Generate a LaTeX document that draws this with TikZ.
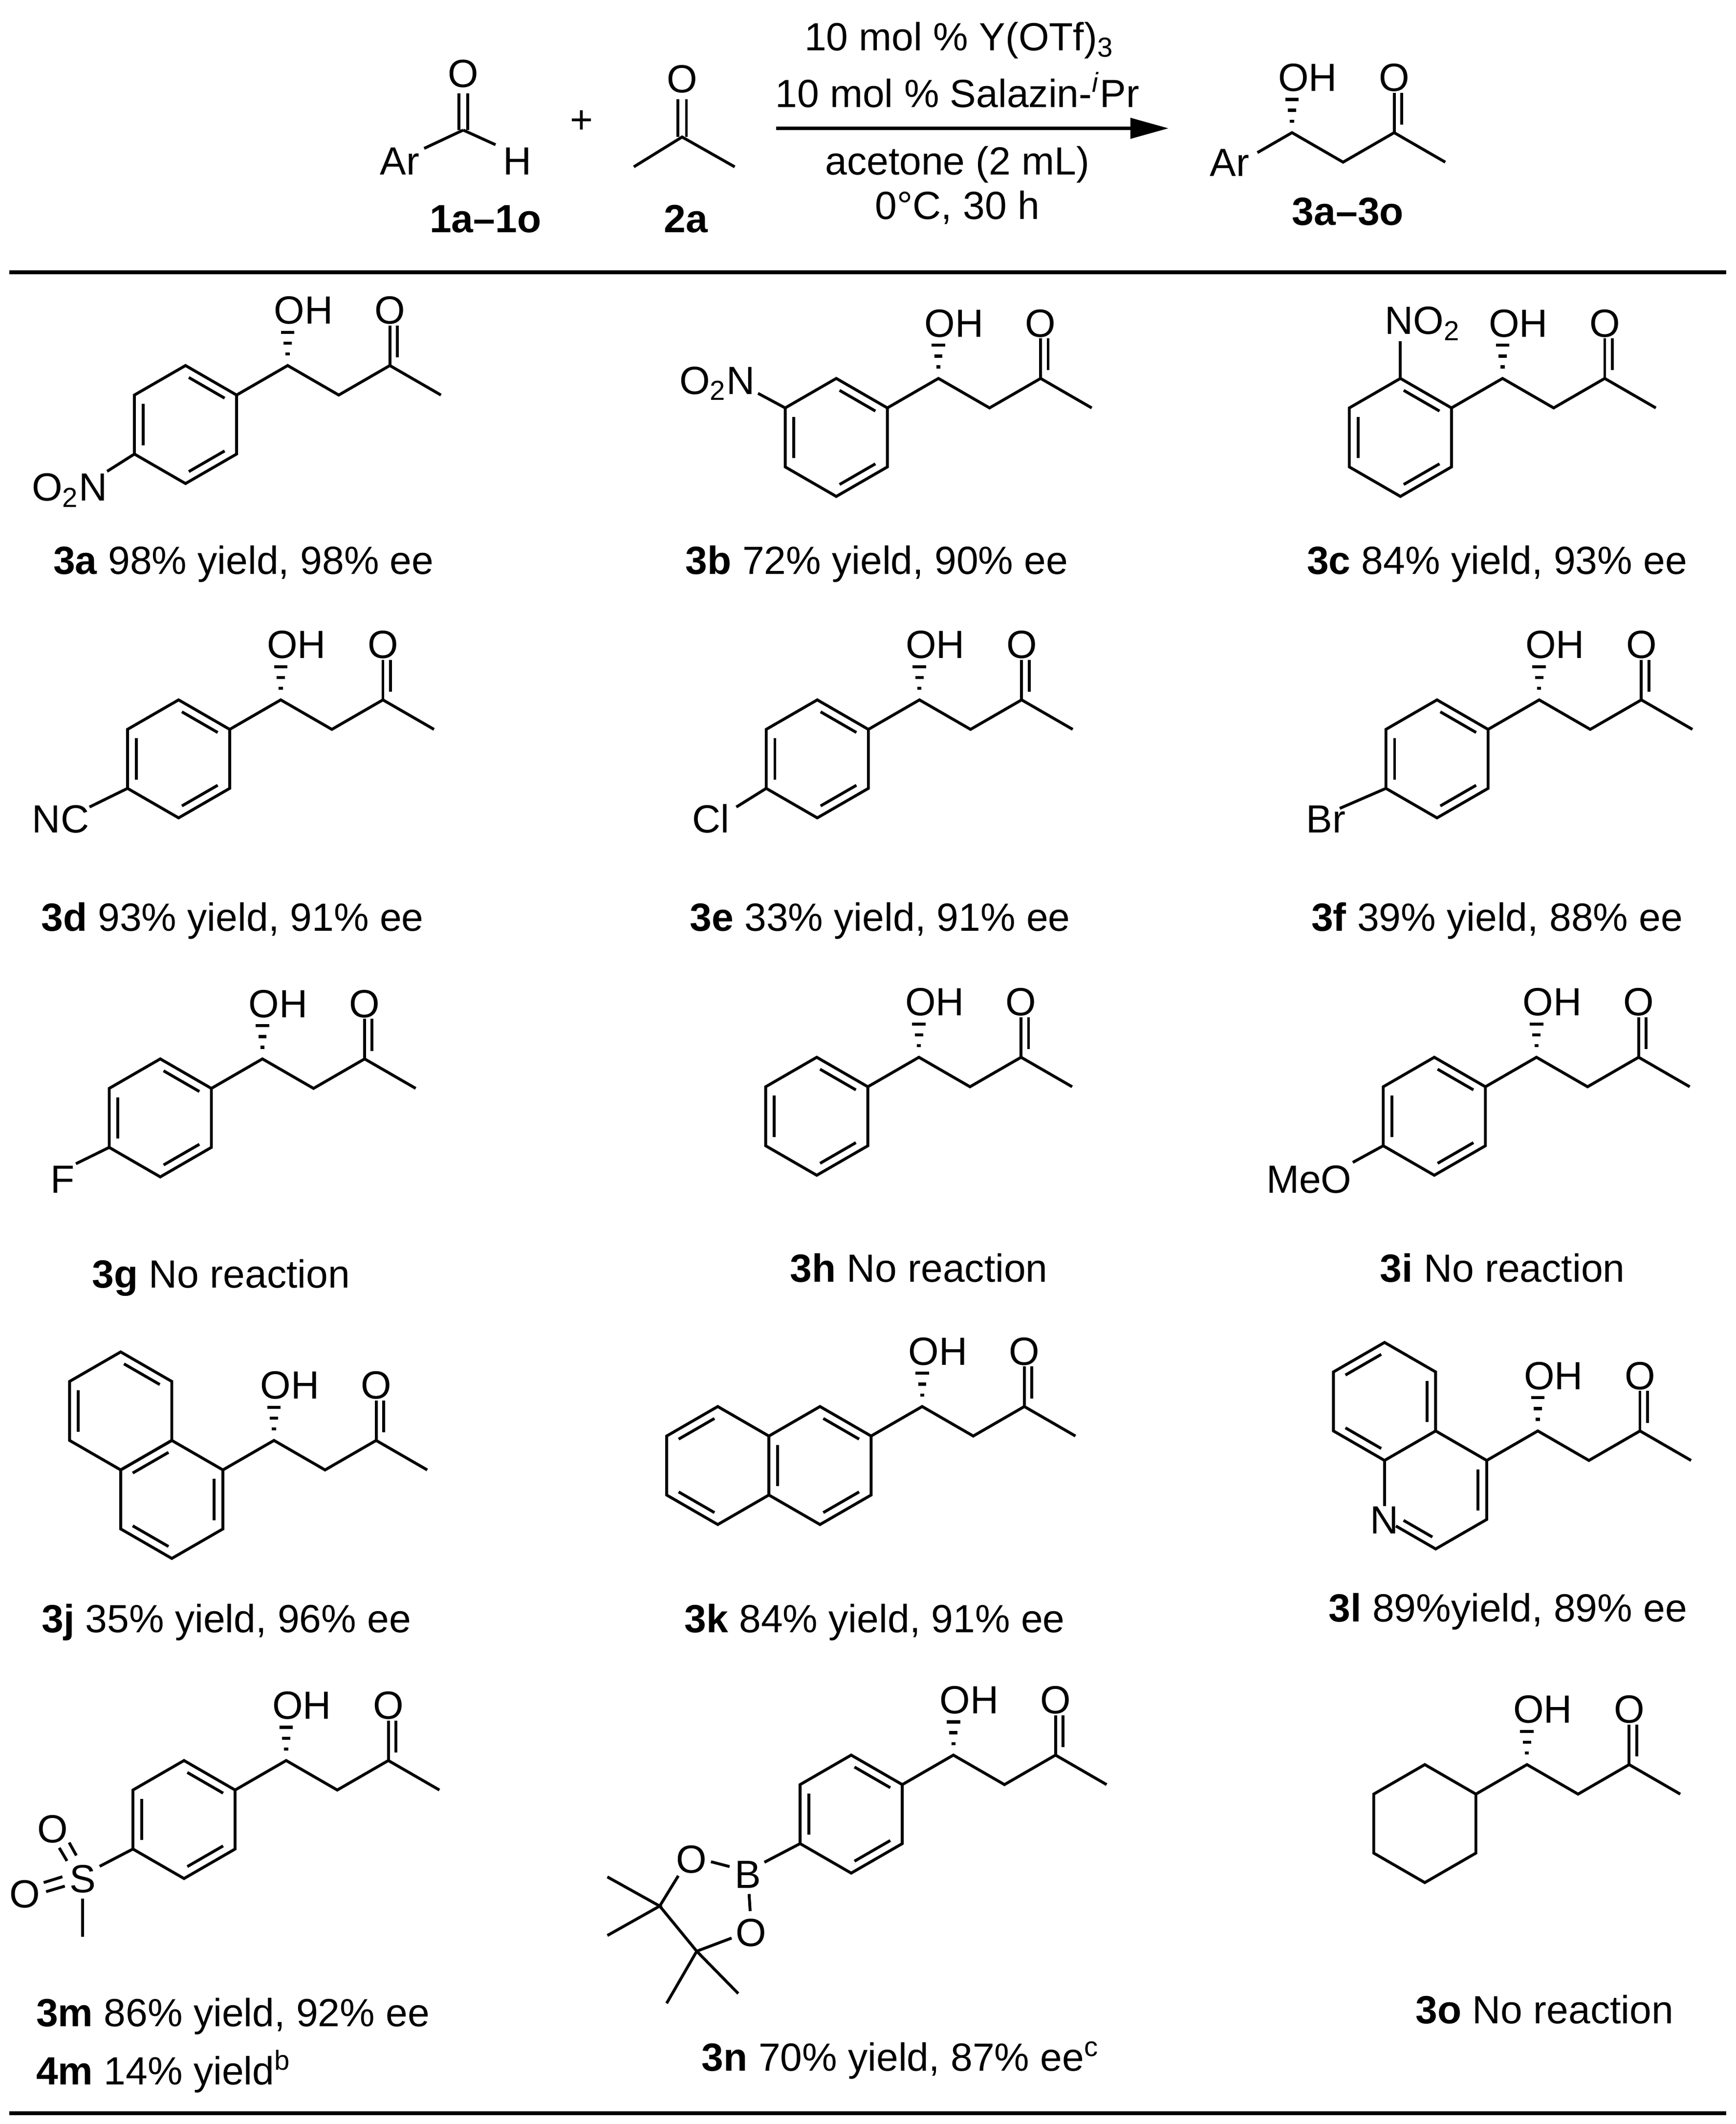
\documentclass[tikz,border=0pt]{standalone}
\usepackage{fontspec}
\setmainfont{Liberation Sans}
\usetikzlibrary{calc,arrows.meta}
\tikzset{
  bond/.style={line width=1.2pt},
  hashmark/.style={line width=1.3pt},
  lbl/.style={font=\fontsize{16.5}{20}\selectfont, inner sep=0pt},
  rulebar/.style={line width=1.7pt},
  rxnarrow/.style={line width=1.3pt,-{Triangle[length=16pt,width=8.5pt]}}
}
\newcommand\hexring[2]{\coordinate (#1-c) at (#2);%
  \foreach \ang in {30,90,150,210,270,330}{\coordinate (#1-\ang) at ($(#1-c)+(-\ang:43.5)$);}}
\newcommand\drawring[1]{\draw[bond] (#1-30)--(#1-90)--(#1-150)--(#1-210)--(#1-270)--(#1-330)--cycle;}
\newcommand\innerdb[3]{\draw[bond,shorten <=1.6pt,shorten >=1.6pt] ($(#1-c)!0.83!(#1-#2)$) -- ($(#1-c)!0.83!(#1-#3)$);}
\newcommand\stdinner[1]{\innerdb{#1}{90}{30}\innerdb{#1}{150}{210}\innerdb{#1}{270}{330}}
\newcommand\sidechain[3][]{%
  \coordinate (#3-1) at ($(#2)+(37.67,-21.75)$);
  \coordinate (#3-2) at ($(#3-1)+(37.67,21.75)$);
  \coordinate (#3-3) at ($(#3-2)+(37.67,-21.75)$);
  \coordinate (#3-4) at ($(#3-3)+(37.67,21.75)$);
  \draw[bond,#1] (#2)--(#3-1)--(#3-2)--(#3-3)--(#3-4);
  \draw[bond] (#3-3) -- ($(#3-3)+(0,-29.5)$);
  \draw[bond] ($(#3-3)+(5.5,-6)$) -- ($(#3-3)+(5.5,-29.5)$);
  \foreach \hd/\hw in {8.5/1.5,16.5/3,24.5/5}{\draw[hashmark] ($(#3-1)+(-\hw,-\hd)$) -- ($(#3-1)+(\hw,-\hd)$);}
  \node[lbl,anchor=base west] (#3-oh) at ($(#3-1)+(-10.5,-30.6)$) {OH};
  \node[lbl,anchor=base] (#3-o) at ($(#3-3)+(0,-30.6)$) {O};
}
\begin{document}
\begin{tikzpicture}[x=0.02cm,y=-0.02cm]
\useasboundingbox (0,0) rectangle (1280,1566);
% ---------- scheme ----------
\coordinate (alC) at (341.6,95.9);
\draw[bond] ($(alC)+(-3.2,0)$) -- ($(alC)+(-3.2,-27)$);
\draw[bond] ($(alC)+(3.2,0)$) -- ($(alC)+(3.2,-27)$);
\coordinate (alAr) at (312.8,109.4);
\coordinate (alH) at (365.4,106.7);
\draw[bond] (alC) -- (alAr);
\draw[bond] (alC) -- (alH);
\node[lbl,anchor=base] (alO) at (341.6,64.4) {O};
\node[lbl,anchor=base west] (alArL) at (280,128.7) {Ar};
\node[lbl,anchor=base west] (alHL) at (370.8,128.7) {H};
\node[lbl] (plus) at (428.8,90) {+};
\coordinate (acC) at (503,101);
\coordinate (acM1) at (467.4,123);
\coordinate (acM2) at (541.8,123);
\draw[bond] ($(acC)+(-3.2,0)$) -- ($(acC)+(-3.2,-28)$);
\draw[bond] ($(acC)+(3.2,0)$) -- ($(acC)+(3.2,-28)$);
\draw[bond] (acM1) -- (acC) -- (acM2);
\node[lbl,anchor=base] (acO) at (503,68.4) {O};
\node[lbl,anchor=base] (l1) at (358,171.5) {\textbf{1a--1o}};
\node[lbl,anchor=base] (l2) at (506,171.5) {\textbf{2a}};
\coordinate (arS) at (572.3,94.6);
\coordinate (arE) at (861.7,94.6);
\draw[rxnarrow] (arS) -- (arE);
\node[lbl,anchor=base] (c1) at (707.3,37.3) {10 mol \% Y(OTf)\textsubscript{3}};
\node[lbl,anchor=base] (c2) at (706,79.1) {10 mol \% Salazin-\textsuperscript{\textit{i}}Pr};
\node[lbl,anchor=base] (c3) at (706,128.7) {acetone (2 mL)};
\node[lbl,anchor=base] (c4) at (706,161.6) {0°C, 30 h};
\coordinate (pAr) at (915.1,119.55);
\sidechain[shorten <=8pt]{pAr}{p}
\node[lbl,anchor=base west] (pArL) at (892,130) {Ar};
\node[lbl,anchor=base] (l3) at (994,166) {\textbf{3a--3o}};
\coordinate (r1a) at (7,200.8); \coordinate (r1b) at (1273,200.8);
\draw[rulebar] (r1a) -- (r1b);
\coordinate (r2a) at (7,1558); \coordinate (r2b) at (1273,1558);
\draw[rulebar] (r2a) -- (r2b);
% ---------- 3a ----------
\hexring{a}{136.8,313}\drawring{a}\stdinner{a}\sidechain{a-30}{ac}
\coordinate (aE) at (79,347.5);
\draw[bond] (a-210) -- (aE);
\node[lbl,anchor=base east] at (79.5,369.4) {O\textsubscript{2}N};
\node[lbl,anchor=base] at (179.6,423.4) {\textbf{3a} 98\% yield, 98\% ee};
% ---------- 3b ----------
\hexring{b}{616.7,322.5}\drawring{b}\stdinner{b}\sidechain{b-30}{bc}
\coordinate (bE) at (559,290);
\draw[bond] (b-150) -- (bE);
\node[lbl,anchor=base east] at (557,290.5) {O\textsubscript{2}N};
\node[lbl,anchor=base] at (646.6,423.4) {\textbf{3b} 72\% yield, 90\% ee};
% ---------- 3c ----------
\hexring{cc}{1032.7,322.5}\drawring{cc}\stdinner{cc}\sidechain{cc-30}{ccc}
\coordinate (cE) at (1032.7,251.5);
\draw[bond] (cc-90) -- (cE);
\node[lbl,anchor=base west] at (1021,246.5) {NO\textsubscript{2}};
\node[lbl,anchor=base] at (1104,423.4) {\textbf{3c} 84\% yield, 93\% ee};
% ---------- 3d ----------
\hexring{d}{131.7,559.5}\drawring{d}\stdinner{d}\sidechain{d-30}{dc}
\coordinate (dE) at (66,595);
\draw[bond] (d-210) -- (dE);
\node[lbl,anchor=base east] at (66,614) {NC};
\node[lbl,anchor=base] at (171.4,686.5) {\textbf{3d} 93\% yield, 91\% ee};
% ---------- 3e ----------
\hexring{e}{602.7,559.5}\drawring{e}\stdinner{e}\sidechain{e-30}{ec}
\coordinate (eE) at (543,595);
\draw[bond] (e-210) -- (eE);
\node[lbl,anchor=base west] at (510,614) {Cl};
\node[lbl,anchor=base] at (649,686.5) {\textbf{3e} 33\% yield, 91\% ee};
% ---------- 3f ----------
\hexring{f}{1059.7,559.5}\drawring{f}\stdinner{f}\sidechain{f-30}{fc}
\coordinate (fE) at (988,596);
\draw[bond] (f-210) -- (fE);
\node[lbl,anchor=base west] at (963,614) {Br};
\node[lbl,anchor=base] at (1104,686.5) {\textbf{3f} 39\% yield, 88\% ee};
% ---------- 3g ----------
\hexring{g}{118.2,824.2}\drawring{g}\stdinner{g}\sidechain{g-30}{gc}
\coordinate (gE) at (56,858);
\draw[bond] (g-210) -- (gE);
\node[lbl,anchor=base west] at (37,879.6) {F};
\node[lbl,anchor=base] at (163,949.5) {\textbf{3g} No reaction};
% ---------- 3h ----------
\hexring{h}{602.3,823}\drawring{h}\stdinner{h}\sidechain{h-30}{hc}
\node[lbl,anchor=base] at (677.6,945) {\textbf{3h} No reaction};
% ---------- 3i ----------
\hexring{i}{1057.7,823}\drawring{i}\stdinner{i}\sidechain{i-30}{ic}
\coordinate (iE) at (997.6,857);
\draw[bond] (i-210) -- (iE);
\node[lbl,anchor=base east] at (997,879.6) {MeO};
\node[lbl,anchor=base] at (1108,945) {\textbf{3i} No reaction};
% ---------- 3j ----------
\hexring{ju}{89,1040.25}\hexring{jl}{126.7,1105.5}
\drawring{ju}\drawring{jl}
\innerdb{ju}{90}{30}\innerdb{ju}{150}{210}
\innerdb{jl}{90}{150}\innerdb{jl}{330}{30}\innerdb{jl}{210}{270}
\sidechain{jl-30}{jc}
\node[lbl,anchor=base] at (167,1203.5) {\textbf{3j} 35\% yield, 96\% ee};
% ---------- 3k ----------
\hexring{kr}{604.7,1080.5}\hexring{kl}{529.3,1080.5}
\drawring{kr}\drawring{kl}
\innerdb{kr}{90}{30}\innerdb{kr}{330}{270}\innerdb{kr}{150}{210}
\innerdb{kl}{90}{150}\innerdb{kl}{210}{270}
\sidechain{kr-30}{kc}
\node[lbl,anchor=base] at (645,1203.5) {\textbf{3k} 84\% yield, 91\% ee};
% ---------- 3l ----------
\hexring{lu}{1021,1033.25}\hexring{ll}{1058.7,1098.5}
\drawring{lu}
\draw[bond] (ll-90) -- (ll-30);
\draw[bond,shorten >=5.5pt] (ll-150) -- (ll-210);
\draw[bond,shorten <=5.5pt] (ll-210) -- (ll-270) -- (ll-330) -- (ll-30);
\innerdb{lu}{90}{150}\innerdb{lu}{30}{330}\innerdb{lu}{210}{270}
\innerdb{ll}{30}{330}
\draw[bond,shorten <=5pt,shorten >=1.6pt] ($(ll-c)!0.83!(ll-210)$) -- ($(ll-c)!0.83!(ll-270)$);
\node[lbl,anchor=base] (lN) at ($(ll-210)+(0,10.4)$) {N};
\sidechain{ll-30}{lc}
\node[lbl,anchor=base] at (1112,1195.5) {\textbf{3l} 89\%yield, 89\% ee};
% ---------- 3m ----------
\hexring{m}{135.7,1341.5}\drawring{m}\stdinner{m}\sidechain{m-30}{mc}
\coordinate (mS) at (60.9,1384.8);
\coordinate (mSE) at (73.5,1376);
\draw[bond] (m-210) -- (mSE);
\node[lbl,anchor=base] (mSL) at (60.9,1395.2) {S};
\node[lbl,anchor=base] (mO1) at (39,1358.4) {O};
\node[lbl,anchor=base] (mO2) at (18.4,1406.4) {O};
\coordinate (mMe1) at (60.9,1400); \coordinate (mMe2) at (60.9,1428);
\draw[bond] (mMe1) -- (mMe2);
\coordinate (ma1) at (43.7,1362.4); \coordinate (ma2) at (49.4,1372);
\coordinate (mb1) at (51,1358.5); \coordinate (mb2) at (56.3,1368);
\draw[bond] (ma1) -- (ma2); \draw[bond] (mb1) -- (mb2);
\coordinate (mc1) at (32.2,1388); \coordinate (mc2) at (46,1383.7);
\coordinate (md1) at (34,1394.7); \coordinate (md2) at (47.8,1390.6);
\draw[bond] (mc1) -- (mc2); \draw[bond] (md1) -- (md2);
\node[lbl,anchor=base west] at (26.4,1494) {\textbf{3m} 86\% yield, 92\% ee};
\node[lbl,anchor=base west] at (26.4,1537) {\textbf{4m} 14\% yield\textsuperscript{b}};
% ---------- 3n ----------
\hexring{n}{627.7,1337.5}\drawring{n}\stdinner{n}\sidechain{n-30}{nc}
\node[lbl,anchor=base] (nB) at (551.6,1392) {B};
\node[lbl,anchor=base] (nO1) at (509.8,1380.8) {O};
\node[lbl,anchor=base] (nO2) at (554,1435) {O};
\coordinate (nBE) at (563.7,1373);
\draw[bond] (n-210) -- (nBE);
\coordinate (nb1) at (524.3,1372.6); \coordinate (nb2) at (538,1376.2);
\draw[bond] (nb1) -- (nb2);
\coordinate (nb3) at (552.4,1396.4); \coordinate (nb4) at (553.2,1409);
\draw[bond] (nb3) -- (nb4);
\coordinate (nQ1) at (486.5,1405.3); \coordinate (nQ2) at (513.8,1438.6);
\coordinate (nO1E) at (500.2,1383); \coordinate (nO2E) at (539.5,1428.9);
\draw[bond] (nO1E) -- (nQ1) -- (nQ2) -- (nO2E);
\coordinate (nM1) at (447.9,1383.8); \coordinate (nM2) at (447.9,1427);
\coordinate (nM3) at (491.6,1477); \coordinate (nM4) at (544.4,1469.8);
\draw[bond] (nM1) -- (nQ1) -- (nM2);
\draw[bond] (nM3) -- (nQ2) -- (nM4);
\node[lbl,anchor=base] at (664,1527) {\textbf{3n} 70\% yield, 87\% ee\textsuperscript{c}};
% ---------- 3o ----------
\hexring{o}{1050.7,1344.5}\drawring{o}\sidechain{o-30}{oc}
\node[lbl,anchor=base] at (1139,1492) {\textbf{3o} No reaction};
\end{tikzpicture}
\end{document}
